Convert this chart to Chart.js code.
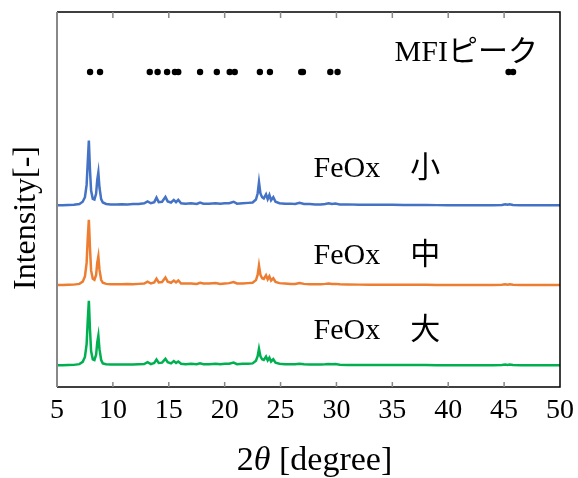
<!DOCTYPE html>
<html>
<head>
<meta charset="utf-8">
<script src="https://cdn.jsdelivr.net/npm/chart.js@4/dist/chart.umd.min.js"></script>
<style>
  body { margin: 0; background: #fff; }
</style>
</head>
<body>
<canvas id="xrd" width="578" height="478"></canvas>
<script>
// 2theta grid and intensities (arbitrary units)
const twoTheta = [
  5.0, 5.5, 6.0, 6.5, 7.0, 7.3, 7.5, 7.65, 7.75, 7.85,
  7.95, 8.05, 8.2, 8.35, 8.5, 8.6, 8.7, 8.8, 8.95, 9.1,
  9.4, 9.8, 10.3, 10.8, 11.3, 11.8, 12.3, 12.8, 13.1, 13.4,
  13.7, 13.9, 14.1, 14.4, 14.7, 14.9, 15.2, 15.45, 15.65, 15.85,
  16.1, 16.5, 17.0, 17.5, 17.8, 18.1, 18.6, 19.2, 19.6, 20.0,
  20.4, 20.8, 21.1, 21.6, 22.1, 22.5, 22.8, 22.95, 23.07, 23.2,
  23.35, 23.5, 23.7, 23.85, 24.0, 24.15, 24.35, 24.55, 24.9, 25.4,
  25.9, 26.3, 26.7, 27.1, 27.6, 28.1, 28.6, 29.0, 29.3, 29.6,
  29.9, 30.3, 31, 32, 33, 34, 35, 36, 37, 38,
  39, 40, 41, 42, 43, 44, 44.8, 45.1, 45.3, 45.5,
  45.8, 46.5, 47.5, 48.5, 49.5, 50
]
const intSmall = [
  0.1, 0.1, 0.15, 0.2, 0.4, 1.0, 2.2, 5.5, 11.5, 17.3,
  9.5, 4.0, 1.8, 1.6, 3.2, 6.8, 8.8, 4.8, 1.7, 0.8,
  0.4, 0.3, 0.3, 0.35, 0.3, 0.4, 0.4, 0.6, 1.1, 0.6,
  0.9, 2.1, 0.9, 1.0, 2.3, 1.1, 0.8, 1.5, 0.9, 1.5,
  0.6, 0.5, 0.6, 0.4, 0.8, 0.5, 0.5, 0.6, 0.5, 0.6,
  0.6, 1.0, 0.5, 0.6, 0.7, 0.8, 1.6, 3.2, 6.2, 3.2,
  2.2, 1.9, 3.0, 1.7, 2.8, 1.4, 2.2, 1.0, 0.6, 0.5,
  0.5, 0.4, 0.7, 0.4, 0.4, 0.3, 0.3, 0.4, 0.6, 0.4,
  0.5, 0.3, 0.3, 0.2, 0.2, 0.2, 0.2, 0.15, 0.15, 0.15,
  0.1, 0.1, 0.1, 0.1, 0.1, 0.1, 0.15, 0.35, 0.2, 0.35,
  0.15, 0.1, 0.1, 0.1, 0.1, 0.1
]
const intMid = [
  0.1, 0.1, 0.15, 0.2, 0.4, 1.0, 2.4, 6.0, 12.5, 17.5,
  10.0, 4.0, 1.8, 1.5, 2.8, 6.0, 7.7, 4.2, 1.5, 0.7,
  0.4, 0.3, 0.3, 0.3, 0.35, 0.3, 0.4, 0.5, 1.0, 0.5,
  0.8, 1.8, 0.8, 0.9, 2.1, 1.0, 0.7, 1.3, 0.8, 1.3,
  0.5, 0.5, 0.5, 0.4, 0.7, 0.5, 0.5, 0.6, 0.4, 0.5,
  0.6, 0.9, 0.5, 0.5, 0.6, 0.7, 1.4, 2.8, 5.3, 2.8,
  1.9, 1.7, 2.7, 1.6, 2.4, 1.3, 1.9, 0.9, 0.6, 0.5,
  0.4, 0.4, 0.6, 0.4, 0.3, 0.3, 0.3, 0.4, 0.5, 0.4,
  0.4, 0.3, 0.25, 0.2, 0.2, 0.2, 0.15, 0.15, 0.15, 0.15,
  0.1, 0.1, 0.1, 0.1, 0.1, 0.1, 0.15, 0.3, 0.2, 0.3,
  0.15, 0.1, 0.1, 0.1, 0.1, 0.1
]
const intLarge = [
  0.1, 0.1, 0.15, 0.2, 0.4, 1.0, 2.3, 5.7, 12.0, 17.3,
  9.7, 3.9, 1.7, 1.5, 2.9, 6.2, 8.0, 4.4, 1.5, 0.6,
  0.35, 0.3, 0.3, 0.3, 0.3, 0.3, 0.35, 0.4, 0.9, 0.4,
  0.7, 1.6, 0.7, 0.8, 1.8, 0.9, 0.6, 1.2, 0.7, 1.1,
  0.5, 0.4, 0.5, 0.35, 0.6, 0.4, 0.4, 0.5, 0.4, 0.5,
  0.5, 0.8, 0.4, 0.5, 0.5, 0.6, 1.3, 2.5, 4.5, 2.5,
  1.7, 1.5, 2.4, 1.4, 2.1, 1.1, 1.7, 0.8, 0.5, 0.4,
  0.4, 0.35, 0.5, 0.35, 0.3, 0.3, 0.3, 0.35, 0.45, 0.35,
  0.4, 0.25, 0.2, 0.2, 0.2, 0.15, 0.15, 0.15, 0.15, 0.15,
  0.1, 0.1, 0.1, 0.1, 0.1, 0.1, 0.15, 0.3, 0.2, 0.3,
  0.15, 0.1, 0.1, 0.1, 0.1, 0.1
]
// vertical stacking offsets of the three patterns
const offsets = { small: 48.4, mid: 27.1, large: 5.7 }

// MFI reference peak positions
const mfiPeaks = [7.96, 8.85, 13.3, 14.0, 14.85, 15.55, 15.85, 17.8, 19.3, 20.45, 20.9,
  23.15, 24.05, 26.85, 27.0, 29.45, 30.1, 45.4, 45.8]
const mfiLevel = 84

const xTicks = [5, 10, 15, 20, 25, 30, 35, 40, 45, 50]
const labels = [
  { text: 'MFIピーク', x: 35.2, y: 89 },
  { text: 'FeOx　小', x: 27.95, y: 58 },
  { text: 'FeOx　中', x: 27.95, y: 35 },
  { text: 'FeOx　大', x: 27.95, y: 15 }
]

const serif = "'Liberation Serif', 'Noto Sans CJK JP', serif"

function series(vals, off) {
  return twoTheta.map((t, i) => ({ x: t, y: vals[i] + off }))
}

const frame = {
  id: 'frame',
  afterDraw(chart) {
    const { ctx, chartArea: a, scales } = chart
    ctx.save()
    // box
    ctx.strokeStyle = '#000'
    ctx.lineWidth = 1.5
    ctx.beginPath()
    ctx.moveTo(a.left, a.top); ctx.lineTo(a.right, a.top); ctx.lineTo(a.right, a.bottom); ctx.lineTo(a.left, a.bottom)
    ctx.stroke()
    ctx.strokeStyle = '#888'
    ctx.lineWidth = 2
    ctx.beginPath(); ctx.moveTo(a.left, a.top); ctx.lineTo(a.left, a.bottom); ctx.stroke()
    // inward ticks
    ctx.strokeStyle = '#888'
    ctx.lineWidth = 1.5
    xTicks.slice(1, -1).forEach(v => {
      const px = scales.x.getPixelForValue(v)
      ctx.beginPath()
      ctx.moveTo(px, a.bottom); ctx.lineTo(px, a.bottom - 5)
      ctx.moveTo(px, a.top); ctx.lineTo(px, a.top + 6)
      ctx.stroke()
    })
    // annotations
    ctx.fillStyle = '#000'
    ctx.font = '30px ' + serif
    ctx.textBaseline = 'middle'
    ctx.textAlign = 'left'
    labels.forEach(l => {
      ctx.fillText(l.text, scales.x.getPixelForValue(l.x), scales.y.getPixelForValue(l.y))
    })
    // x title with italic theta
    const parts = [['2', '34px '], ['θ', 'italic 34px '], [' [degree]', '34px ']]
    let w = 0
    parts.forEach(p => { ctx.font = p[1] + serif; w += ctx.measureText(p[0]).width })
    let x = (a.left + a.right) / 2 + 6 - w / 2
    const ty = 461
    parts.forEach(p => { ctx.font = p[1] + serif; ctx.fillText(p[0], x, ty); x += ctx.measureText(p[0]).width })
    // y title
    ctx.font = '32px ' + serif
    ctx.translate(27, 218)
    ctx.rotate(-Math.PI / 2)
    ctx.textAlign = 'center'
    ctx.fillText('Intensity[-]', 0, 0)
    ctx.restore()
  }
}

new Chart(document.getElementById('xrd'), {
  type: 'line',
  data: {
    datasets: [
      { data: series(intSmall, offsets.small), borderColor: '#4472C4', borderWidth: 2.5, pointRadius: 0, tension: 0 },
      { data: series(intMid, offsets.mid), borderColor: '#ED7D31', borderWidth: 2.5, pointRadius: 0, tension: 0 },
      { data: series(intLarge, offsets.large), borderColor: '#00B050', borderWidth: 2.5, pointRadius: 0, tension: 0 },
      { data: mfiPeaks.map(p => ({ x: p, y: mfiLevel })), showLine: false, pointRadius: 3.2,
        pointBackgroundColor: '#000', pointBorderColor: '#000', pointBorderWidth: 0 }
    ]
  },
  plugins: [frame],
  options: {
    responsive: false,
    animation: false,
    layout: { padding: { top: 12, right: 18, left: 0, bottom: 0 } },
    plugins: { legend: { display: false }, tooltip: { enabled: false } },
    scales: {
      x: {
        type: 'linear', min: 5, max: 50,
        afterBuildTicks: s => { s.ticks = xTicks.map(v => ({ value: v })) },
        ticks: { color: '#000', font: { family: serif, size: 28 }, padding: 7, maxRotation: 0 },
        grid: { display: false, drawTicks: false },
        border: { display: false },
        afterFit: s => { s.height = 91; s.paddingLeft = 0; s.paddingRight = 0 }
      },
      y: {
        min: 0, max: 100,
        ticks: { display: false },
        grid: { display: false, drawTicks: false },
        border: { display: false },
        afterFit: s => { s.width = 57 }
      }
    }
  }
})
</script>
</body>
</html>
